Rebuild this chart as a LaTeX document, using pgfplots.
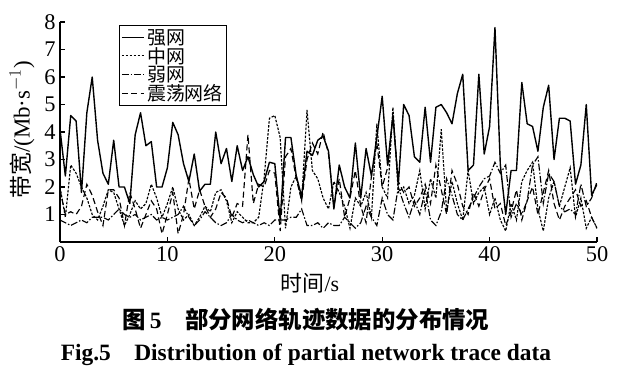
\documentclass[border=0pt]{standalone}
\usepackage{pgfplots}
\usepackage{pgfplotstable}
\pgfplotsset{compat=1.18}
\usepackage{fontspec}
\setmainfont{Liberation Serif}
\newfontfamily\cjk{Noto Sans CJK SC}

\pgfplotstableread{
x s m w o
0 4.1 2.0 0.8 1.9
0.5 2.4 0.9 0.7 1.0
1 4.6 2.8 0.6 1.1
1.5 4.4 2.5 0.7 1.0
2 1.8 2.0 0.8 1.3
2.5 4.7 1.6 0.7 2.1
3 6.0 1.0 0.9 1.7
3.5 3.7 0.8 0.9 1.1
4 2.5 1.3 0.9 0.6
4.5 2.1 1.9 0.8 1.9
5 3.7 1.8 1.0 1.9
5.5 2.0 1.2 1.2 1.6
6 2.0 0.6 1.0 0.6
6.5 1.4 1.0 0.9 1.8
7 3.9 1.5 1.0 1.2
7.5 4.7 1.2 0.8 0.5
8 3.5 1.4 0.9 1.0
8.5 3.65 2.1 1.0 1.5
9 2.0 1.6 0.8 1.2
9.5 2.0 0.9 0.9 0.3
10 2.7 1.4 0.8 1.0
10.5 4.35 2.0 0.9 1.8
11 3.9 1.2 1.0 0.3
11.5 2.85 0.8 1.3 1.0
12 2.2 1.0 0.9 2.3
12.5 3.2 0.6 0.6 1.2
13 1.85 0.9 0.8 1.9
13.5 2.1 1.3 1.1 1.3
14 2.1 1.1 0.9 0.9
14.5 4.0 1.8 0.7 1.2
15 2.85 1.9 0.6 1.8
15.5 3.4 1.5 0.7 1.6
16 2.2 0.7 1.0 0.9
16.5 3.5 1.1 0.8 1.4
17 2.6 0.9 0.7 1.3
17.5 3.1 0.7 0.8 3.9
18 2.45 0.7 0.7 1.4
18.5 2.0 0.9 0.6 2.1
19 2.2 2.3 0.7 2.0
19.5 2.9 4.5 0.6 2.6
20 2.85 4.6 0.8 2.5
20.5 0.8 3.8 0.8 0.4
21 3.8 0.5 0.8 3.1
21.5 3.8 2.0 0.9 3.4
22 2.4 2.4 0.9 2.3
22.5 1.65 1.5 1.2 1.5
23 3.3 4.8 0.6 3.0
23.5 3.15 2.6 0.6 3.6
24 3.7 2.3 0.7 3.2
24.5 3.85 1.6 0.5 4.0
25 3.3 1.2 0.7 3.2
25.5 1.2 2.2 0.6 1.3
26 2.8 1.8 0.6 2.3
26.5 2.0 1.3 0.9 0.9
27 1.6 0.5 0.7 1.6
27.5 3.6 1.6 0.5 2.6
28 1.6 1.3 0.7 1.3
28.5 3.4 1.8 1.3 0.7
29 2.4 0.9 0.9 2.4
29.5 3.8 4.3 0.6 3.6
30 5.3 2.0 1.6 2.0
30.5 2.8 1.6 1.0 2.7
31 4.6 4.9 0.8 4.6
31.5 2.1 1.8 2.0 2.2
32 5.0 2.0 1.4 1.8
32.5 4.6 1.4 0.9 2.0
33 3.1 1.7 1.5 1.3
33.5 2.9 2.6 1.0 1.6
34 4.9 1.2 1.9 2.1
34.5 2.9 2.3 0.8 1.4
35 4.9 1.6 0.6 2.8
35.5 5.0 4.1 1.1 1.9
36 4.7 1.1 2.3 1.0
36.5 4.3 2.2 1.7 2.6
37 5.4 1.4 1.0 2.1
37.5 6.1 0.8 0.8 1.3
38 2.6 2.6 1.2 1.0
38.5 2.8 1.4 1.6 1.8
39 6.1 1.8 2.0 1.3
39.5 3.2 2.0 2.3 1.9
40 4.2 1.0 2.4 2.3
40.5 7.8 1.6 2.9 1.2
41 2.8 0.8 2.5 1.4
41.5 1.0 0.4 2.8 0.6
42 2.6 1.4 0.9 1.1
42.5 2.6 0.8 1.4 1.9
43 5.8 2.2 1.0 0.8
43.5 4.3 2.6 1.5 1.5
44 4.2 2.9 2.8 2.0
44.5 3.3 1.2 3.1 1.0
45 4.9 0.4 1.4 1.8
45.5 5.7 1.6 2.5 2.6
46 3.0 2.2 2.2 1.4
46.5 4.5 1.3 1.3 0.8
47 4.5 2.0 1.1 1.3
47.5 4.4 2.7 1.2 1.6
48 2.1 0.9 1.0 1.9
48.5 2.8 1.6 2.1 1.3
49 5.0 0.5 1.3 1.5
49.5 1.7 0.9 1.6 0.9
50 2.1 0.5 2.2 0.5
}\data

\begin{document}
\begin{tikzpicture}
\path[use as bounding box] (-60bp,-140bp) rectangle (563bp,242bp);
\begin{axis}[
  scale only axis,
  width=537bp, height=220bp,
  xmin=0, xmax=50, ymin=0, ymax=8,
  axis x line*=bottom, axis y line*=left,
  axis line style={line width=1.1pt},
  xtick={0,10,20,30,40,50},
  ytick={1,2,3,4,5,6,7,8},
  tick align=inside,
  major tick length=5bp,
  tick style={line width=1.1pt, black},
  /pgf/number format/assume math mode=true,
  ticklabel style={font=\fontsize{22.5}{24}\selectfont},
  xticklabel style={yshift=-1bp},
  yticklabel style={xshift=-1bp},
  legend style={at={(0.11,0.985)}, anchor=north west, draw=black, line width=1pt,
    font=\fontsize{19}{19}\selectfont\cjk, inner sep=1.5pt, row sep=-2.5pt,
    /tikz/every even column/.append style={column sep=2pt}},
  legend cell align=left,
  legend image code/.code={\draw[#1] (0cm,0cm) -- (0.8cm,0cm);},
]
\addplot[black, line width=1.4pt, line join=round] table[x=x,y=s]{\data};
\addlegendentry{强网}
\addplot[black, line width=1.15pt, dash pattern=on 2.5pt off 1.5pt] table[x=x,y=m]{\data};
\addlegendentry{中网}
\addplot[black, line width=1.15pt, dash pattern=on 7pt off 2pt on 1.5pt off 2pt] table[x=x,y=w]{\data};
\addlegendentry{弱网}
\addplot[black, line width=1.15pt, dash pattern=on 6pt off 3.5pt] table[x=x,y=o]{\data};
\addlegendentry{震荡网络}
\end{axis}
\node[rotate=90, font=\fontsize{23}{24}\selectfont] at (-38bp,112bp) {{\cjk 带宽}/(Mb·s$^{-1}$)};
\node[font=\fontsize{22}{24}\selectfont] at (250bp,-41bp) {{\cjk 时间}/s};
\node[font=\fontsize{23.5}{25}\selectfont\cjk\bfseries] at (246bp,-78bp) {图\,{\normalfont\bfseries 5}\quad 部分网络轨迹数据的分布情况};
\node[font=\fontsize{23.5}{25}\selectfont\bfseries] at (246bp,-113bp) {Fig.5\quad Distribution of partial network trace data};
\end{tikzpicture}
\end{document}
